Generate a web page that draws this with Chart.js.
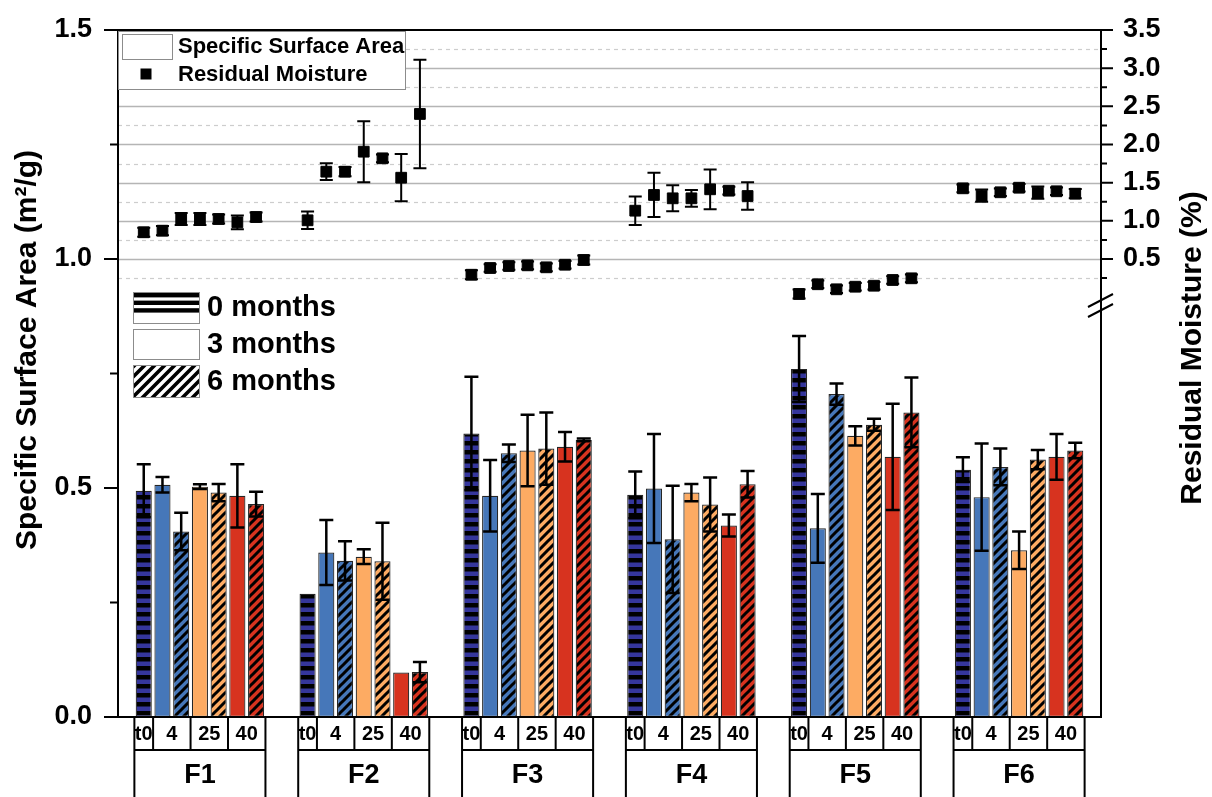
<!DOCTYPE html>
<html>
<head>
<meta charset="utf-8">
<script src="https://cdn.jsdelivr.net/npm/chart.js@4.4.1/dist/chart.umd.min.js"></script>
<style>
  html, body { margin: 0; padding: 0; background: #ffffff; overflow: hidden; }
  #wrap { width: 1212px; height: 797px; }
</style>
</head>
<body>
<div id="wrap"><canvas id="chart" width="1212" height="797"></canvas></div>
<script>
// ---- categories and labels ----
const formulations = ['F1', 'F2', 'F3', 'F4', 'F5', 'F6'];
const temperatureLabels = ['t0', '4', '25', '40'];
const ageLabels = ['0 months', '3 months', '6 months'];
const leftTicks = [0, 0.5, 1.0, 1.5];
const rightTicks = [0.5, 1.0, 1.5, 2.0, 2.5, 3.0, 3.5];

// ---- specific surface area (m²/g), mean and standard deviation ----
const ssa_t0      = [0.494, 0.269, 0.619, 0.485, 0.760, 0.540];
const ssa_t0_sd   = [0.058, 0.000, 0.124, 0.051, 0.072, 0.027];
const ssa_4_3m    = [0.507, 0.359, 0.483, 0.499, 0.412, 0.480];
const ssa_4_3m_sd = [0.017, 0.071, 0.078, 0.119, 0.075, 0.117];
const ssa_4_6m    = [0.405, 0.341, 0.576, 0.388, 0.705, 0.546];
const ssa_4_6m_sd = [0.041, 0.043, 0.019, 0.117, 0.023, 0.040];
const ssa_25_3m    = [0.503, 0.350, 0.582, 0.490, 0.614, 0.364];
const ssa_25_3m_sd = [0.005, 0.016, 0.078, 0.019, 0.021, 0.041];
const ssa_25_6m    = [0.490, 0.340, 0.586, 0.464, 0.638, 0.562];
const ssa_25_6m_sd = [0.019, 0.084, 0.079, 0.059, 0.013, 0.021];
const ssa_40_3m    = [0.483, 0.097, 0.590, 0.418, 0.568, 0.568];
const ssa_40_3m_sd = [0.069, 0.000, 0.032, 0.024, 0.116, 0.050];
const ssa_40_6m    = [0.465, 0.098, 0.605, 0.508, 0.665, 0.582];
const ssa_40_6m_sd = [0.027, 0.022, 0.003, 0.029, 0.076, 0.017];

// ---- residual moisture (%), per formulation in the order t0, 4/3m, 4/6m, 25/3m, 25/6m, 40/3m, 40/6m ----
const moisture_F1 = [0.850, 0.871, 1.024, 1.024, 1.024, 0.981, 1.050];
const moisture_F2 = [1.007, 1.644, 1.644, 1.906, 1.819, 1.565, 2.400];
const moisture_F3 = [0.294, 0.382, 0.408, 0.417, 0.391, 0.425, 0.487];
const moisture_F4 = [1.133, 1.339, 1.295, 1.295, 1.413, 1.395, 1.325];
const moisture_F5 = [0.042, 0.169, 0.103, 0.137, 0.150, 0.225, 0.247];
const moisture_F6 = [1.426, 1.329, 1.374, 1.434, 1.369, 1.387, 1.356];
const moisture_F1_sd = [0.06, 0.06, 0.08, 0.08, 0.06, 0.09, 0.06];
const moisture_F2_sd = [0.115, 0.11, 0.06, 0.40, 0.05, 0.31, 0.71];
const moisture_F3_sd = [0.06, 0.05, 0.05, 0.05, 0.05, 0.05, 0.06];
const moisture_F4_sd = [0.186, 0.29, 0.17, 0.11, 0.26, 0.05, 0.18];
const moisture_F5_sd = [0.06, 0.05, 0.05, 0.05, 0.05, 0.05, 0.05];
const moisture_F6_sd = [0.05, 0.08, 0.05, 0.05, 0.08, 0.05, 0.06];

// ---- styling ----
const FONT = "'Liberation Sans', Arial, Helvetica, sans-serif";
const NAVY = '#35369c';
const BLUE = '#4677b9';
const ORANGE = '#fdab63';
const RED = '#d7331f';
const GROUP_FRACTION = 0.8;   // share of a formulation's slot taken by its seven bars
const BAR_FILL = 0.86;        // bar width relative to its own sub-slot
const NBARS = 7;

function stripePattern(bg, period, black) {
  const c = document.createElement('canvas');
  c.width = 8; c.height = period;
  const g = c.getContext('2d');
  g.fillStyle = bg; g.fillRect(0, 0, 8, period);
  g.fillStyle = '#000'; g.fillRect(0, 0, 8, black);
  return g.createPattern(c, 'repeat');
}
function hatchPattern(bg, period, lw) {
  const c = document.createElement('canvas');
  c.width = period; c.height = period;
  const g = c.getContext('2d');
  g.fillStyle = bg; g.fillRect(0, 0, period, period);
  g.strokeStyle = '#000'; g.lineWidth = lw; g.lineCap = 'square';
  g.beginPath();
  for (let k = -1; k <= 1; k++) {
    g.moveTo(k * period, period);
    g.lineTo(k * period + period, 0);
  }
  g.stroke();
  return g.createPattern(c, 'repeat');
}

const barSeries = [
  { label: 't0',              data: ssa_t0,    sd: ssa_t0_sd,    fill: stripePattern(NAVY, 9, 4.5) },
  { label: '4 °C, 3 months',  data: ssa_4_3m,  sd: ssa_4_3m_sd,  fill: BLUE },
  { label: '4 °C, 6 months',  data: ssa_4_6m,  sd: ssa_4_6m_sd,  fill: hatchPattern(BLUE, 9, 3) },
  { label: '25 °C, 3 months', data: ssa_25_3m, sd: ssa_25_3m_sd, fill: ORANGE },
  { label: '25 °C, 6 months', data: ssa_25_6m, sd: ssa_25_6m_sd, fill: hatchPattern(ORANGE, 9, 3) },
  { label: '40 °C, 3 months', data: ssa_40_3m, sd: ssa_40_3m_sd, fill: RED },
  { label: '40 °C, 6 months', data: ssa_40_6m, sd: ssa_40_6m_sd, fill: hatchPattern(RED, 9, 3) }
];

const moistureByGroup = [moisture_F1, moisture_F2, moisture_F3, moisture_F4, moisture_F5, moisture_F6];
const moistureSdByGroup = [moisture_F1_sd, moisture_F2_sd, moisture_F3_sd, moisture_F4_sd, moisture_F5_sd, moisture_F6_sd];

// x position of bar j inside formulation g, in formulation units
const slotUnits = GROUP_FRACTION / NBARS;
const barX = (g, j) => g + (j - (NBARS - 1) / 2) * slotUnits;

const moisturePoints = [];
const moistureSd = [];
moistureByGroup.forEach((vals, g) => {
  vals.forEach((v, j) => {
    moisturePoints.push({ x: barX(g, j), y: v });
    moistureSd.push(moistureSdByGroup[g][j]);
  });
});

const datasets = barSeries.map((s, j) => ({
  type: 'bar',
  label: s.label,
  data: s.data.map((v, g) => ({ x: barX(g, j), y: v })),
  backgroundColor: s.fill,
  borderColor: '#262626',
  borderWidth: 1.2,
  borderSkipped: false,
  grouped: false,
  categoryPercentage: 1,
  barPercentage: BAR_FILL,
  xAxisID: 'x',
  yAxisID: 'y'
}));
datasets.push({
  type: 'scatter',
  label: 'Residual Moisture',
  data: moisturePoints,
  xAxisID: 'x',
  yAxisID: 'y2',
  pointStyle: 'rect',
  pointRadius: 7.6,
  pointBackgroundColor: '#000',
  pointBorderColor: '#000',
  pointBorderWidth: 1,
  showLine: false
});

function errorBar(ctx, x, yTop, yBot, cap, lw) {
  ctx.save();
  ctx.strokeStyle = '#000';
  ctx.lineWidth = lw;
  ctx.beginPath();
  ctx.moveTo(x, yTop); ctx.lineTo(x, yBot);
  ctx.moveTo(x - cap / 2, yTop); ctx.lineTo(x + cap / 2, yTop);
  ctx.moveTo(x - cap / 2, yBot); ctx.lineTo(x + cap / 2, yBot);
  ctx.stroke();
  ctx.restore();
}

const decorations = {
  id: 'decorations',
  beforeDatasetsDraw(chart) {
    const { ctx, chartArea: a, scales } = chart;
    const y2 = scales.y2;
    ctx.save();
    for (let v = 0.25; v <= 3.26; v += 0.25) {
      const py = Math.round(y2.getPixelForValue(v)) + 0.5;
      const major = Math.abs(v * 2 - Math.round(v * 2)) < 1e-6;
      ctx.beginPath();
      if (major) {
        ctx.strokeStyle = '#b5b5b5'; ctx.lineWidth = 1.6; ctx.setLineDash([]);
      } else {
        ctx.strokeStyle = '#cdcdcd'; ctx.lineWidth = 1.2; ctx.setLineDash([4, 4]);
      }
      ctx.moveTo(a.left, py); ctx.lineTo(a.right, py);
      ctx.stroke();
    }
    ctx.restore();
  },
  afterDatasetsDraw(chart) {
    const { ctx, scales } = chart;
    // error bars on the surface-area bars
    barSeries.forEach((s, i) => {
      const meta = chart.getDatasetMeta(i);
      meta.data.forEach((el, k) => {
        const e = s.sd[k];
        if (!e) return;
        errorBar(ctx, el.x, scales.y.getPixelForValue(s.data[k] + e),
          scales.y.getPixelForValue(s.data[k] - e), 14, 2.5);
      });
    });
    // error bars on the moisture points
    const mMeta = chart.getDatasetMeta(barSeries.length);
    mMeta.data.forEach((el, k) => {
      const v = moisturePoints[k].y, e = moistureSd[k];
      errorBar(ctx, el.x, scales.y2.getPixelForValue(v + e), scales.y2.getPixelForValue(v - e), 13, 2);
    });
  },
  afterDraw(chart) {
    const { ctx, chartArea: a, scales } = chart;
    const { x: xs, y: ys, y2 } = scales;
    ctx.save();
    ctx.strokeStyle = '#000';
    ctx.fillStyle = '#000';

    // frame
    ctx.lineWidth = 2;
    ctx.beginPath();
    ctx.moveTo(a.left, a.top); ctx.lineTo(a.right, a.top);
    ctx.moveTo(a.left, a.bottom); ctx.lineTo(a.right, a.bottom);
    ctx.moveTo(a.left, a.top - 1); ctx.lineTo(a.left, a.bottom + 1);
    ctx.moveTo(a.right, a.top - 1); ctx.lineTo(a.right, a.bottom + 1);
    ctx.stroke();

    // left ticks: major every 0.5, minor in between
    ctx.beginPath();
    for (let v = 0; v <= 1.5001; v += 0.25) {
      const py = ys.getPixelForValue(v);
      const major = Math.abs(v * 2 - Math.round(v * 2)) < 1e-6;
      ctx.moveTo(a.left - (major ? 14 : 8), py); ctx.lineTo(a.left, py);
    }
    // right ticks
    for (let v = 0.25; v <= 3.5001; v += 0.25) {
      const py = y2.getPixelForValue(v);
      const major = Math.abs(v * 2 - Math.round(v * 2)) < 1e-6;
      ctx.moveTo(a.right, py); ctx.lineTo(a.right + (major ? 12 : 6), py);
    }
    ctx.stroke();

    // axis break on the moisture axis
    ctx.beginPath();
    ctx.moveTo(a.right - 13, 307); ctx.lineTo(a.right + 12, 294);
    ctx.moveTo(a.right - 13, 317); ctx.lineTo(a.right + 12, 304);
    ctx.stroke();

    // two-row category table under the axis
    const slot = xs.getPixelForValue(slotUnits) - xs.getPixelForValue(0);
    const rowTop = a.bottom, rowMid = a.bottom + 33, rowBot = 800;
    formulations.forEach((name, g) => {
      const cx = xs.getPixelForValue(g);
      const start = cx - slot * NBARS / 2;
      const cuts = [0, 1, 3, 5, 7].map(n => start + n * slot);
      ctx.lineWidth = 2;
      ctx.beginPath();
      cuts.forEach(xc => { ctx.moveTo(xc, rowTop); ctx.lineTo(xc, rowMid); });
      ctx.moveTo(start, rowMid); ctx.lineTo(start + NBARS * slot, rowMid);
      ctx.moveTo(start, rowMid); ctx.lineTo(start, rowBot);
      ctx.moveTo(start + NBARS * slot, rowMid); ctx.lineTo(start + NBARS * slot, rowBot);
      ctx.stroke();
      ctx.textAlign = 'center'; ctx.textBaseline = 'middle';
      ctx.font = 'bold 20px ' + FONT;
      temperatureLabels.forEach((t, n) => {
        ctx.fillText(t, (cuts[n] + cuts[n + 1]) / 2, rowTop + 17);
      });
      ctx.font = 'bold 27px ' + FONT;
      ctx.fillText(name, cx, rowMid + 26);
    });

    // legend: measured quantities
    ctx.fillStyle = '#fff';
    ctx.fillRect(a.left + 1, a.top + 2, 287, 58);
    ctx.strokeStyle = '#8c8c8c'; ctx.lineWidth = 1;
    ctx.strokeRect(a.left + 0.5, a.top + 1.5, 287, 58);
    ctx.strokeRect(122.5, 34.5, 50, 25);
    ctx.fillStyle = '#000';
    ctx.fillRect(146 - 5.5, 74 - 5.5, 11, 11);
    ctx.font = 'bold 22px ' + FONT;
    ctx.textAlign = 'left'; ctx.textBaseline = 'middle';
    ctx.fillText('Specific Surface Area', 178, 47);
    ctx.fillText('Residual Moisture', 178, 75);

    // legend: storage time
    const sw = [[133, 292, 66, 31], [133, 329, 66, 30], [133, 365, 66, 32]];
    sw.forEach(r => { ctx.fillStyle = '#fff'; ctx.fillRect(r[0], r[1], r[2], r[3]); });
    ctx.fillStyle = '#000';
    for (let k = 0; k < 3; k++) ctx.fillRect(133, 293 + k * 7.6, 66, 4.4);
    ctx.save();
    ctx.beginPath(); ctx.rect(sw[2][0], sw[2][1], sw[2][2], sw[2][3]); ctx.clip();
    ctx.fillStyle = hatchPattern('#ffffff', 10, 3.6);
    ctx.fillRect(sw[2][0], sw[2][1], sw[2][2], sw[2][3]);
    ctx.restore();
    ctx.strokeStyle = '#8c8c8c'; ctx.lineWidth = 1;
    sw.forEach(r => ctx.strokeRect(r[0] + 0.5, r[1] + 0.5, r[2], r[3]));
    ctx.fillStyle = '#000';
    ctx.font = 'bold 29px ' + FONT;
    ctx.fillText(ageLabels[0], 207, 308);
    ctx.fillText(ageLabels[1], 207, 345);
    ctx.fillText(ageLabels[2], 207, 382);

    // axis titles
    ctx.font = 'bold 30px ' + FONT;
    ctx.textAlign = 'center'; ctx.textBaseline = 'middle';
    ctx.save();
    ctx.translate(28, 350); ctx.rotate(-Math.PI / 2);
    ctx.fillText('Specific Surface Area (m²/g)', 0, 0);
    ctx.restore();
    ctx.save();
    ctx.translate(1193, 348); ctx.rotate(-Math.PI / 2);
    ctx.fillText('Residual Moisture (%)', 0, 0);
    ctx.restore();

    ctx.restore();
  }
};

new Chart(document.getElementById('chart'), {
  type: 'bar',
  data: { datasets },
  options: {
    responsive: false,
    animation: false,
    devicePixelRatio: 1,
    layout: { padding: { top: 30, left: 0, right: 0, bottom: 0 } },
    plugins: { legend: { display: false }, tooltip: { enabled: false }, title: { display: false } },
    scales: {
      x: {
        type: 'linear', min: -0.5, max: 5.5, offset: false,
        grid: { display: false, drawTicks: false, offset: false }, border: { display: false },
        ticks: { display: false, stepSize: 1 },
        afterFit: s => { s.height = 80; }
      },
      y: {
        position: 'left', min: 0, max: 1.5,
        afterBuildTicks: s => { s.ticks = leftTicks.map(v => ({ value: v })); },
        ticks: {
          callback: v => Number(v).toFixed(1), color: '#000', padding: 0, autoSkip: false,
          font: { family: FONT, size: 27, weight: 'bold' }
        },
        grid: { display: false, drawTicks: true, tickLength: 26 }, border: { display: false },
        afterFit: s => { s.width = 118; }
      },
      y2: {
        position: 'right', min: -5.5, max: 3.5,
        afterBuildTicks: s => { s.ticks = rightTicks.map(v => ({ value: v })); },
        ticks: {
          callback: v => Number(v).toFixed(1), color: '#000', padding: 0, autoSkip: false,
          font: { family: FONT, size: 27, weight: 'bold' }
        },
        grid: { display: false, drawTicks: true, tickLength: 22 }, border: { display: false },
        afterFit: s => { s.width = 111; }
      }
    }
  },
  plugins: [decorations]
});
</script>
